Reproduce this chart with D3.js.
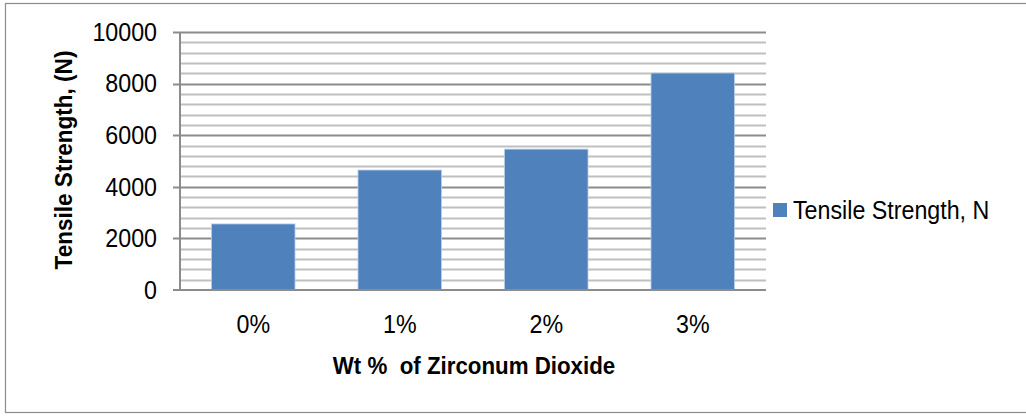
<!DOCTYPE html>
<html>
<head>
<meta charset="utf-8">
<script src="https://cdn.jsdelivr.net/npm/d3@7"></script>
<style>
  body { margin: 0; background: #fff; }
  svg { display: block; }
  text { font-family: "Liberation Sans", Arial, sans-serif; fill: #000; white-space: pre; }
</style>
</head>
<body>
<svg id="chart" width="1026" height="417"></svg>
<script>
const categories = ["0%", "1%", "2%", "3%"]
const tensile = [2560, 4650, 5460, 8410]
const yTicks = [0, 2000, 4000, 6000, 8000, 10000]
const seriesName = "Tensile Strength, N"
const xTitle = "Wt %  of Zirconum Dioxide"
const yTitle = "Tensile Strength, (N)"

const barColor = "#4f81bd"
const narrow = 0.93 // squeeze text a bit, the original font is a narrow one
const plot = { left: 180, right: 766, top: 32, bottom: 290 }

var svg = d3.select("#chart")

// outer chart frame
svg.append("rect")
    .attr("x", 5.5).attr("y", 3.5)
    .attr("width", 1030).attr("height", 409)
    .attr("fill", "#fff")
    .attr("stroke", "#8c8c8c")
    .attr("stroke-width", 1.2)

var x = d3.scaleBand()
    .domain(categories)
    .range([plot.left, plot.right])
    .paddingInner(0.43)
    .paddingOuter(0.215)

var y = d3.scaleLinear()
    .domain([0, 10000])
    .range([plot.bottom, plot.top])

// minor gridlines every 400
svg.append("g")
    .selectAll("line")
    .data(d3.range(400, 10000, 400).filter(v => v % 2000 !== 0))
    .enter().append("line")
    .attr("x1", plot.left).attr("x2", plot.right)
    .attr("y1", d => Math.round(y(d)) + 0.5)
    .attr("y2", d => Math.round(y(d)) + 0.5)
    .attr("stroke", "#bfbfbf")
    .attr("stroke-width", 2)

// major gridlines
svg.append("g")
    .selectAll("line")
    .data(yTicks.filter(v => v > 0))
    .enter().append("line")
    .attr("x1", plot.left - 7).attr("x2", plot.right)
    .attr("y1", d => Math.round(y(d)) + 0.5)
    .attr("y2", d => Math.round(y(d)) + 0.5)
    .attr("stroke", "#8c8c8c")
    .attr("stroke-width", 2)

// bars
svg.append("g")
    .selectAll("rect")
    .data(tensile)
    .enter().append("rect")
    .attr("x", (d, i) => x(categories[i]))
    .attr("y", d => y(d))
    .attr("width", x.bandwidth())
    .attr("height", d => y(0) - y(d))
    .attr("fill", barColor)
    .attr("stroke", "#b9cde5")
    .attr("stroke-width", 0.8)

// axes lines
svg.append("line")
    .attr("x1", plot.left).attr("x2", plot.left)
    .attr("y1", plot.top).attr("y2", plot.bottom)
    .attr("stroke", "#8c8c8c").attr("stroke-width", 2)
svg.append("line")
    .attr("x1", plot.left - 7).attr("x2", plot.right)
    .attr("y1", plot.bottom).attr("y2", plot.bottom)
    .attr("stroke", "#8c8c8c").attr("stroke-width", 2)

// y tick labels
svg.append("g")
    .selectAll("text")
    .data(yTicks)
    .enter().append("text")
    .attr("transform", d => "translate(157," + y(d) + ") scale(" + narrow + ",1)")
    .attr("dy", "0.35em")
    .attr("text-anchor", "end")
    .attr("font-size", 25)
    .text(d => d)

// x tick labels
svg.append("g")
    .selectAll("text")
    .data(categories)
    .enter().append("text")
    .attr("transform", d => "translate(" + (x(d) + x.bandwidth() / 2) + ",324) scale(" + narrow + ",1)")
    .attr("dy", "0.35em")
    .attr("text-anchor", "middle")
    .attr("font-size", 25)
    .text(d => d)

// axis titles
svg.append("text")
    .attr("transform", "translate(474,366) scale(0.93,1)")
    .attr("dy", "0.35em")
    .attr("text-anchor", "middle")
    .attr("font-size", 24)
    .attr("font-weight", "bold")
    .text(xTitle)

svg.append("text")
    .attr("transform", "translate(64,160) rotate(-90) scale(0.94,1)")
    .attr("dy", "0.35em")
    .attr("text-anchor", "middle")
    .attr("font-size", 24)
    .attr("font-weight", "bold")
    .text(yTitle)

// legend
var legend = svg.append("g").attr("transform", "translate(773,203)")
legend.append("rect")
    .attr("width", 14).attr("height", 14)
    .attr("fill", barColor)
legend.append("text")
    .attr("transform", "translate(20,7) scale(" + narrow + ",1)")
    .attr("dy", "0.35em")
    .attr("font-size", 25)
    .text(seriesName)
</script>
</body>
</html>
